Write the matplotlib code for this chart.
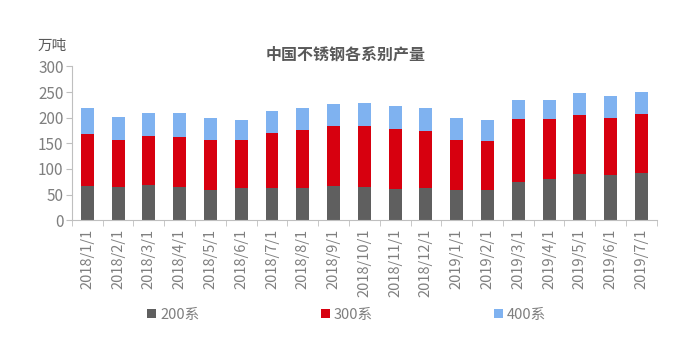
import matplotlib
matplotlib.use('Agg')
import matplotlib.pyplot as plt
import numpy as np

plt.rcParams['font.family'] = ['Noto Sans CJK SC', 'DejaVu Sans']

# data (万吨)
months = ['2018/1/1', '2018/2/1', '2018/3/1', '2018/4/1', '2018/5/1', '2018/6/1',
          '2018/7/1', '2018/8/1', '2018/9/1', '2018/10/1', '2018/11/1', '2018/12/1',
          '2019/1/1', '2019/2/1', '2019/3/1', '2019/4/1', '2019/5/1', '2019/6/1', '2019/7/1']
s200 = [67, 64.5, 68.5, 64.5, 58.7, 62.6, 62.6, 62.6, 66.5, 64.5, 60.7, 62.6,
        58.7, 58.7, 74.4, 80.2, 90, 88, 92]
s300 = [101, 92, 95.5, 97.5, 97.8, 93.9, 107.4, 113.4, 117.5, 119.5, 117.3, 111.4,
        97.8, 95.9, 123.2, 117.4, 115.5, 111.6, 115.4]
s400 = [51, 45, 45, 47, 43, 39.2, 43, 43, 43, 45, 45, 45,
        43, 41.1, 37.4, 37.4, 43, 43, 43.1]
names = ['200系', '300系', '400系']
colors = ['#5f5f5f', '#d7000f', '#7fb2f0']

fig = plt.figure(figsize=(6.98, 3.5), dpi=100)
ax = fig.add_axes([0.103, 0.371, 0.838, 0.439])

x = np.arange(len(months))
w = 0.42
b1 = ax.bar(x, s200, w, color=colors[0], label=names[0])
b2 = ax.bar(x, s300, w, bottom=s200, color=colors[1], label=names[1])
bot = np.array(s200) + np.array(s300)
b3 = ax.bar(x, s400, w, bottom=bot, color=colors[2], label=names[2])

ax.set_xlim(-0.5, len(months) - 0.5)
ax.set_ylim(0, 300)
ax.set_yticks(range(0, 301, 50))
ax.set_xticks(x)
ax.set_xticklabels(months, rotation=90, fontsize=10.5, color='#7f7f7f')
ax.set_xticks(np.arange(-0.5, len(months), 1), minor=True)
ax.tick_params(axis='x', which='major', length=0, pad=6)
ax.tick_params(axis='x', which='minor', length=4, color='#bfbfbf')
ax.tick_params(axis='y', length=4, color='#bfbfbf', labelsize=11, labelcolor='#7f7f7f', pad=2)

for s in ['top', 'right']:
    ax.spines[s].set_visible(False)
ax.spines['left'].set_color('#bfbfbf')
ax.spines['bottom'].set_color('#bfbfbf')

fig.text(0.495, 0.845, '中国不锈钢各系别产量', ha='center', va='center',
         fontsize=11.5, fontweight='bold', color='#595959')
fig.text(0.075, 0.87, '万吨', ha='center', va='center', fontsize=10.5, color='#595959')

fig.legend(handles=[b1, b2, b3], labels=names, loc='center', bbox_to_anchor=(0.497, 0.1),
           ncol=3, frameon=False, fontsize=10.5, labelcolor='#7f7f7f',
           handlelength=0.6, handleheight=0.6, handletextpad=0.3, columnspacing=8.3)

fig.savefig('out.png', dpi=100)
